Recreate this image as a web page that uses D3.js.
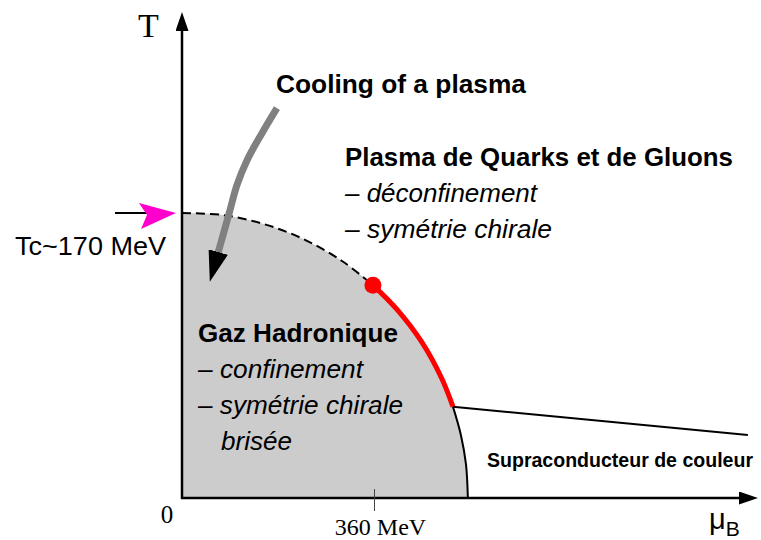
<!DOCTYPE html>
<html>
<head>
<meta charset="utf-8">
<script src="https://cdn.jsdelivr.net/npm/d3@7"></script>
<style>
  html, body { margin: 0; padding: 0; background: #fff; }
  svg { display: block; }
  .sans { font-family: "Liberation Sans", Arial, Helvetica, sans-serif; }
  .serif { font-family: "Liberation Serif", "Times New Roman", serif; }
</style>
</head>
<body>
<svg id="chart" width="761" height="540"></svg>
<script>
// ---------- data (µB and T in MeV) ----------
const crossoverMu = [0, 75, 150, 225, 300, 358];
const crossoverT  = [170, 168.9, 163.8, 154.9, 141.4, 127];
const firstOrderMu = [358, 403, 450, 487.5, 508];
const firstOrderT  = [127, 112.5, 92.8, 71, 54.5];
const cscBoundaryMu = [508, 523, 532.5, 536];
const cscBoundaryT  = [54.5, 37.5, 20, 0];
const cflLineMu = [508, 1061];
const cflLineT  = [54.5, 37.6];
const criticalPoint = { mu: 358, T: 127 };
const Tc = 170;
const tickMu = [360];
const tickLabels = ["360 MeV"];
const coolingMu = [178, 150, 122, 103, 90, 77, 67.5];
const coolingT  = [232.6, 217.7, 201.6, 186.7, 171.8, 156.9, 146.2];

const svg = d3.select("#chart");
const x = d3.scaleLinear().domain([0, 1080]).range([182, 758]);
const y = d3.scaleLinear().domain([0, 290]).range([498, 12]);

const zip = (a, b) => a.map((v, i) => [v, b[i]]);
const crossover = zip(crossoverMu, crossoverT);
const firstOrder = zip(firstOrderMu, firstOrderT);
const csc = zip(cscBoundaryMu, cscBoundaryT);
const boundaryAll = crossover.concat(firstOrder.slice(1), csc.slice(1));

// ---------- markers ----------
const defs = svg.append("defs");
defs.append("marker").attr("id", "axArrow")
  .attr("viewBox", "0 -6.5 19 13").attr("refX", 9).attr("refY", 0)
  .attr("markerWidth", 19).attr("markerHeight", 13)
  .attr("markerUnits", "userSpaceOnUse").attr("orient", "auto")
  .append("path").attr("d", "M0,-6.5L19,0L0,6.5Z").attr("fill", "#000");
defs.append("marker").attr("id", "coolArrow")
  .attr("viewBox", "0 -10 31 20").attr("refX", 1).attr("refY", 0)
  .attr("markerWidth", 31).attr("markerHeight", 20)
  .attr("markerUnits", "userSpaceOnUse").attr("orient", "auto")
  .append("path").attr("d", "M0,-10L31,0L0,10Z").attr("fill", "#000");

const line = d3.line().x(d => x(d[0])).y(d => y(d[1])).curve(d3.curveCatmullRom);

// ---------- hadron gas region ----------
svg.append("path")
  .datum(boundaryAll)
  .attr("d", d3.area().x(d => x(d[0])).y0(y(0)).y1(d => y(d[1])).curve(d3.curveCatmullRom))
  .attr("fill", "#cccccc");

// crossover (dashed)
svg.append("path").datum(crossover).attr("d", line)
  .attr("fill", "none").attr("stroke", "#000").attr("stroke-width", 2)
  .attr("stroke-dasharray", "9,5");
// CSC boundary (black)
svg.append("path").datum(csc).attr("d", line)
  .attr("fill", "none").attr("stroke", "#000").attr("stroke-width", 2);
// line into CFL region
svg.append("path").datum(zip(cflLineMu, cflLineT)).attr("d", d3.line().x(d => x(d[0])).y(d => y(d[1])))
  .attr("fill", "none").attr("stroke", "#000").attr("stroke-width", 2);
// first order (red)
svg.append("path").datum(firstOrder).attr("d", line)
  .attr("fill", "none").attr("stroke", "#ff0000").attr("stroke-width", 5);
// critical point
svg.append("circle").attr("cx", x(criticalPoint.mu)).attr("cy", y(criticalPoint.T))
  .attr("r", 8.5).attr("fill", "#ff0000");

// ---------- cooling arrow ----------
svg.append("path").datum(zip(coolingMu, coolingT))
  .attr("d", d3.line().x(d => x(d[0])).y(d => y(d[1])).curve(d3.curveCatmullRom))
  .attr("fill", "none").attr("stroke", "#808080").attr("stroke-width", 7)
  .attr("marker-end", "url(#coolArrow)");

// ---------- axes ----------
svg.append("line")
  .attr("x1", x(0)).attr("y1", y(0) + 1).attr("x2", x(0)).attr("y2", y(290) + 10)
  .attr("stroke", "#000").attr("stroke-width", 2.5).attr("marker-end", "url(#axArrow)");
svg.append("line")
  .attr("x1", x(0) - 1).attr("y1", y(0)).attr("x2", x(1080) - 10).attr("y2", y(0))
  .attr("stroke", "#000").attr("stroke-width", 2.5).attr("marker-end", "url(#axArrow)");

const xAxis = svg.append("g").attr("transform", `translate(0,${y(0)})`)
  .call(d3.axisBottom(x).tickValues(tickMu).tickSize(13).tickFormat((d, i) => tickLabels[i]));
xAxis.select(".domain").remove();
xAxis.selectAll(".tick line").attr("y1", -9).attr("stroke", "#444").attr("stroke-width", 1);
xAxis.selectAll(".tick text").attr("class", "serif").attr("font-size", 24)
  .attr("fill", "#000").attr("y", 0).attr("dy", 37).attr("dx", 6);

// origin label
svg.append("text").attr("class", "serif").attr("x", x(0) - 15).attr("y", y(0) + 25)
  .attr("text-anchor", "middle").attr("font-size", 25).text("0");

// axis titles
svg.append("text").attr("class", "serif").attr("x", 148.5).attr("y", 37)
  .attr("text-anchor", "middle").attr("font-size", 34).text("T");
const mu = svg.append("text").attr("class", "sans").attr("x", 709).attr("y", 529).attr("font-size", 29);
mu.append("tspan").text("μ");
mu.append("tspan").attr("font-size", 21).attr("dy", 7).text("B");

// Tc marker arrow
const yTc = y(Tc);
svg.append("line").attr("x1", 115).attr("x2", 148).attr("y1", yTc).attr("y2", yTc)
  .attr("stroke", "#000").attr("stroke-width", 2);
const tipX = x(0) - 6;
svg.append("path")
  .attr("d", `M${tipX},${yTc} L${tipX - 37},${yTc - 10} L${tipX - 29},${yTc + 2} L${tipX - 35},${yTc + 16} Z`)
  .attr("fill", "#ff00cc");
svg.append("text").attr("class", "sans").attr("x", 15).attr("y", 255)
  .attr("font-size", 26).attr("textLength", 151).attr("lengthAdjust", "spacingAndGlyphs")
  .text("Tc~170 MeV");

// ---------- region labels ----------
const labels = [
  { t: "Cooling of a plasma", x: 276, y: 93, w: 250, s: 26, b: true, i: false },
  { t: "Plasma de Quarks et de Gluons", x: 345, y: 166, w: 388, s: 26, b: true, i: false },
  { t: "– déconfinement", x: 345, y: 202, w: 192, s: 26, b: false, i: true },
  { t: "– symétrie chirale", x: 345, y: 238, w: 207, s: 26, b: false, i: true },
  { t: "Gaz Hadronique", x: 198, y: 342, w: 200, s: 26, b: true, i: false },
  { t: "– confinement", x: 198, y: 378, w: 165, s: 26, b: false, i: true },
  { t: "– symétrie chirale", x: 198, y: 414, w: 205, s: 26, b: false, i: true },
  { t: "brisée", x: 221, y: 450, w: 71, s: 26, b: false, i: true },
  { t: "Supraconducteur de couleur", x: 487, y: 467, w: 266, s: 19.5, b: true, i: false }
];
svg.selectAll("text.region").data(labels).join("text")
  .attr("class", "region sans")
  .attr("x", d => d.x).attr("y", d => d.y)
  .attr("font-size", d => d.s)
  .attr("font-weight", d => d.b ? "bold" : "normal")
  .attr("font-style", d => d.i ? "italic" : "normal")
  .attr("textLength", d => d.w).attr("lengthAdjust", "spacingAndGlyphs")
  .text(d => d.t);
</script>
</body>
</html>
